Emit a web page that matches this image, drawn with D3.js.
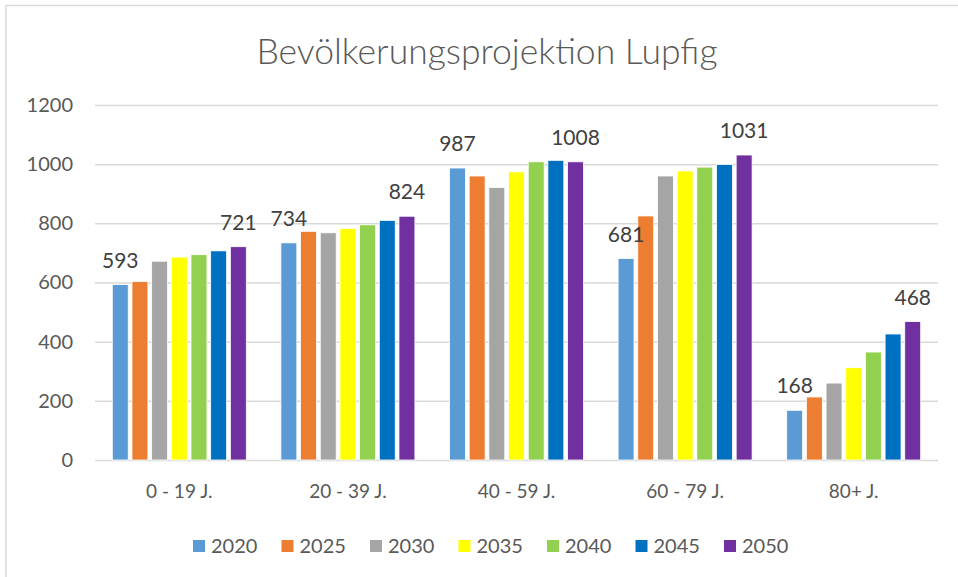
<!DOCTYPE html>
<html>
<head>
<meta charset="utf-8">
<script src="https://cdn.jsdelivr.net/npm/d3@7"></script>
<style>
  html, body { margin: 0; padding: 0; background: #fff; }
  svg { display: block; font-family: Lato, "Open Sans", sans-serif; }
</style>
</head>
<body>
<svg id="chart" width="958" height="577"></svg>
<script>
const title = "Bevölkerungsprojektion Lupfig";
const categories = ["0 - 19 J.", "20 - 39 J.", "40 - 59 J.", "60 - 79 J.", "80+ J."];
const years = ["2020", "2025", "2030", "2035", "2040", "2045", "2050"];
const v2020 = [593, 734, 987, 681, 168];
const v2025 = [603, 773, 960, 825, 213];
const v2030 = [672, 768, 921, 960, 260];
const v2035 = [686, 782, 974, 977, 312];
const v2040 = [694, 795, 1008, 990, 365];
const v2045 = [707, 810, 1013, 999, 426];
const v2050 = [721, 824, 1008, 1031, 468];
const colors = ["#5B9BD5", "#ED7D31", "#A5A5A5", "#FFFF00", "#92D050", "#0070C0", "#7030A0"];
const yTicks = [0, 200, 400, 600, 800, 1000, 1200];
const labeledYears = ["2020", "2050"];

const seriesValues = [v2020, v2025, v2030, v2035, v2040, v2045, v2050];
const data = categories.map((c, i) => ({
  cat: c,
  vals: years.map((y, j) => ({ year: y, value: seriesValues[j][i], color: colors[j] }))
}));

const svg = d3.select("#chart");
const W = 958, H = 577;
const plot = { left: 95, right: 938, top: 105, bottom: 460 };

// frame (left & top border)
svg.append("line").attr("x1", 6).attr("x2", W).attr("y1", 5.5).attr("y2", 5.5)
  .attr("stroke", "#d9d9d9").attr("stroke-width", 1.5);
svg.append("line").attr("x1", 6).attr("x2", 6).attr("y1", 5).attr("y2", H)
  .attr("stroke", "#d9d9d9").attr("stroke-width", 1.5);

// title
svg.append("text").attr("x", 487).attr("y", 64).attr("text-anchor", "middle")
  .attr("font-size", 35.5).attr("fill", "#595959").attr("font-weight", 300).text(title);

const y = d3.scaleLinear().domain([0, 1200]).range([plot.bottom, plot.top]);
const x0 = d3.scaleBand().domain(categories).range([plot.left, plot.right]).padding(0);
const outer = 17.3;
const x1 = d3.scaleBand().domain(years).range([outer, x0.bandwidth() - outer]).paddingInner(0.19).paddingOuter(0);

// gridlines
const yAxis = d3.axisLeft(y).tickValues(yTicks).tickSize(-(plot.right - plot.left)).tickPadding(22).tickFormat(d3.format("d"));
const gy = svg.append("g").attr("transform", `translate(${plot.left},0)`).call(yAxis);
gy.select(".domain").remove();
gy.selectAll(".tick line").attr("stroke", "#d9d9d9").attr("stroke-width", 1.5);
gy.selectAll(".tick text").attr("font-size", 20).attr("fill", "#595959").attr("font-family", "Lato, sans-serif");

// bars
const groups = svg.append("g").selectAll("g").data(data).join("g")
  .attr("transform", d => `translate(${x0(d.cat)},0)`);
groups.selectAll("rect").data(d => d.vals).join("rect")
  .attr("x", d => x1(d.year))
  .attr("y", d => y(d.value))
  .attr("width", x1.bandwidth())
  .attr("height", d => y(0) - y(d.value))
  .attr("fill", d => d.color)
  .attr("stroke", "#ffffff").attr("stroke-width", 0.8);

// data labels
groups.selectAll("text.lbl").data(d => d.vals.filter(v => labeledYears.includes(v.year))).join("text")
  .attr("class", "lbl")
  .attr("x", d => x1(d.year) + x1.bandwidth() / 2)
  .attr("y", d => y(d.value) - 17)
  .attr("text-anchor", "middle")
  .attr("font-size", 21).attr("fill", "#404040")
  .text(d => d.value);

// x axis labels
const xAxis = d3.axisBottom(x0).tickSize(0).tickPadding(25);
const gx = svg.append("g").attr("transform", `translate(0,${plot.bottom})`).call(xAxis);
gx.select(".domain").remove();
gx.selectAll(".tick text").attr("font-size", 19).attr("fill", "#595959").attr("font-family", "Lato, sans-serif");

// legend
const legStart = 193, legStep = 88.5, legY = 546;
const leg = svg.append("g").selectAll("g").data(years).join("g")
  .attr("transform", (d, i) => `translate(${legStart + i * legStep},${legY})`);
leg.append("rect").attr("x", 0).attr("y", -6).attr("width", 12).attr("height", 12)
  .attr("fill", (d, i) => colors[i]);
leg.append("text").attr("x", 18).attr("y", 0).attr("dy", "0.36em")
  .attr("font-size", 20).attr("fill", "#595959").text(d => d);
</script>
</body>
</html>
